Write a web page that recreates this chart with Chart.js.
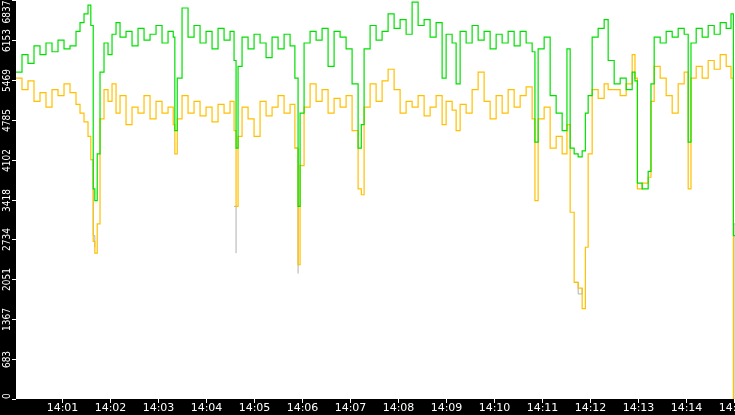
<!DOCTYPE html>
<html>
<head>
<meta charset="utf-8">
<script src="https://cdn.jsdelivr.net/npm/chart.js@4/dist/chart.umd.min.js"></script>
<style>
  html, body { margin: 0; padding: 0; background: #000; }
  #wrap { width: 735px; height: 415px; }
</style>
</head>
<body>
<div id="wrap"><canvas id="c" width="735" height="415"></canvas></div>
<script>
// seconds after 14:00
const times = [2.5, 10, 17.5, 25, 32.5, 40, 47.5, 55, 62.5, 70, 77.5, 82.5, 87.5, 92.5, 96, 99, 101, 104, 107.5,
  112.5, 117.5, 122.5, 127.5, 132.5, 140, 147.5, 155, 162.5, 170, 177.5, 185, 192.5, 199, 201, 204, 210, 217.5,
  225, 232.5, 240, 247.5, 255, 262.5, 270, 275, 277.5, 280, 285, 292.5, 300, 307.5, 315, 322.5, 330, 337.5, 345,
  351, 355, 357.5, 362.5, 370, 377.5, 385, 392.5, 400, 407.5, 415, 422.5, 430, 434, 437.5, 445, 452.5, 460, 467.5,
  475, 482.5, 490, 497.5, 505, 512.5, 520, 527.5, 535, 540, 547.5, 552.5, 557.5, 565, 572.5, 580, 587.5, 595,
  602.5, 610, 617.5, 625, 632.5, 640, 647.5, 651, 655, 662.5, 670, 677.5, 685, 691, 695, 700, 705, 710, 714,
  717.5, 722.5, 730, 737.5, 742.5, 750, 757.5, 765, 772.5, 776, 779, 785, 792.5, 796, 800, 807.5, 815, 822.5,
  830, 837.5, 842.5, 846, 852.5, 860, 867.5, 875, 882.5, 890, 896, 899, 901];

const greenValues = [5600, 5900, 5750, 6050, 5900, 6100, 5950, 6150, 6000, 6050, 6300, 6450, 6600, 6750, 6400, 3600, 3400, 4200, 5600,
  6100, 5900, 6250, 6450, 6200, 6300, 6050, 6350, 6150, 6250, 6400, 6100, 6300, 6200, 4600, 5500, 6700, 6200,
  6400, 6100, 6300, 6000, 6350, 6150, 6300, 5800, 4300, 5700, 6200, 6000, 6250, 6100, 5850, 6200, 6000, 6250, 6050,
  5500, 3300, 4900, 6100, 6300, 6150, 6350, 5700, 6300, 6200, 6000, 5400, 4300, 4700, 6000, 6400, 6150, 6300, 6600,
  6350, 6500, 6250, 6800, 6400, 6500, 6200, 6450, 5500, 6250, 6100, 5400, 6300, 6100, 6400, 6150, 6300, 6000,
  6250, 6100, 6300, 6050, 6300, 6100, 5950, 4400, 6000, 6200, 5200, 4900, 4600, 6000, 4300, 4200, 4150, 4250, 4900,
  5200, 6200, 6350, 6500, 5800, 5400, 5500, 5300, 5600, 5450, 3700, 3600, 3900, 5400, 6200, 6100, 6300, 6200,
  6350, 6250, 4400, 6100, 6350, 6200, 6400, 6250, 6450, 6350, 6600, 2800, 2800];

const orangeValues = [5500, 5300, 5450, 5100, 5250, 5000, 5300, 5200, 5400, 5250, 5050, 4900, 4750, 4500, 4100, 2700, 2500, 3000, 4800,
  5300, 5100, 5400, 4900, 5200, 4700, 5000, 4900, 5200, 4800, 5100, 4900, 5000, 4700, 4200, 4800, 5200, 4900,
  5100, 4850, 5000, 4750, 5050, 4900, 5100, 4600, 3300, 4500, 5000, 4800, 4500, 5100, 4850, 5000, 5200, 4900, 5050,
  4300, 2300, 4000, 5000, 5400, 5100, 5300, 4900, 5150, 5000, 5200, 4600, 3600, 3500, 5000, 5400, 5100, 5450, 5650,
  5300, 4900, 5100, 5000, 5200, 4850, 5000, 5200, 4700, 5100, 4950, 4600, 5050, 4900, 5300, 5600, 5100, 4800,
  5200, 4900, 5300, 5000, 5200, 5350, 4800, 3400, 4800, 5000, 4300, 4500, 4200, 4700, 3200, 2000, 1900, 1550, 2600,
  4200, 5300, 5150, 5400, 5300, 5300, 5200, 5400, 5900, 5500, 3600, 3700, 3800, 5100, 5700, 5500, 5200, 4900,
  5400, 5600, 3600, 5500, 5700, 5500, 5800, 5650, 5900, 5700, 5500, 0, 0];

// gray only shows through at the dips; null breaks the line elsewhere
const grayTimes = [96, 99, 101, 104, 275, 277.5, 280, 351, 355, 357.5, 700, 705, 710, 714, 899, 901];
const grayValues = [4100, 2800, 2600, null, 3300, 2500, null, 4300, 2150, null, 2000, 1800, 1900, null, 3000, 0];

const yTicks = [0, 683, 1367, 2051, 2734, 3418, 4102, 4785, 5469, 6153, 6837];
const xTickSeconds = [60, 120, 180, 240, 300, 360, 420, 480, 540, 600, 660, 720, 780, 840, 900];

const pts = (ts, vs) => ts.map((t, i) => ({ x: t, y: vs[i] }));

const frame = {
  id: 'frame',
  beforeDraw(chart) {
    const { ctx, chartArea: a } = chart;
    ctx.save();
    ctx.fillStyle = '#000';
    ctx.fillRect(0, 0, chart.width, chart.height);
    ctx.fillStyle = '#fff';
    ctx.fillRect(a.left, a.top, a.right - a.left, a.bottom - a.top);
    ctx.restore();
  },
  afterDraw(chart) {
    const { ctx, chartArea: a, scales } = chart;
    ctx.save();
    ctx.strokeStyle = '#fff';
    ctx.fillStyle = '#fff';
    ctx.lineWidth = 1;
    ctx.font = '10px "DejaVu Sans Condensed", "DejaVu Sans"';
    // y labels, rotated
    yTicks.forEach(v => {
      const y = Math.round(scales.y.getPixelForValue(v)) + 0.5;
      ctx.beginPath(); ctx.moveTo(a.left - 4, y); ctx.lineTo(a.left, y); ctx.stroke();
      ctx.save();
      ctx.translate(7, Math.min(Math.max(y, 0), a.bottom));
      ctx.rotate(-Math.PI / 2);
      ctx.textAlign = v === 0 ? 'left' : (v === 6837 ? 'right' : 'center');
      ctx.textBaseline = 'middle';
      ctx.fillText(String(v), 0, 0);
      ctx.restore();
    });
    // x labels
    ctx.font = '11px "DejaVu Sans"';
    ctx.textAlign = 'center';
    ctx.textBaseline = 'top';
    xTickSeconds.forEach(s => {
      const x = Math.round(scales.x.getPixelForValue(s)) + 0.5;
      ctx.beginPath(); ctx.moveTo(x, a.bottom); ctx.lineTo(x, a.bottom + 4); ctx.stroke();
      ctx.fillText('14:' + String(Math.floor(s / 60)).padStart(2, '0'), x, a.bottom + 4);
    });
    ctx.restore();
  }
};

new Chart(document.getElementById('c'), {
  type: 'line',
  data: {
    datasets: [
      { data: pts(times, greenValues), borderColor: '#00e000', borderWidth: 1.2, stepped: true, pointRadius: 0, order: 1 },
      { data: pts(times, orangeValues), borderColor: '#ffc000', borderWidth: 1.2, stepped: true, pointRadius: 0, order: 2 },
      { data: pts(grayTimes, grayValues), borderColor: '#b0b0b0', borderWidth: 1, stepped: true, pointRadius: 0, spanGaps: false, order: 3 }
    ]
  },
  options: {
    responsive: false,
    animation: false,
    layout: { padding: { left: 16, bottom: 16, top: 0, right: 0 } },
    plugins: { legend: { display: false }, tooltip: { enabled: false } },
    scales: {
      x: { type: 'linear', min: 2.5, max: 901, display: false },
      y: { min: 0, max: 6837, display: false }
    }
  },
  plugins: [frame]
});
</script>
</body>
</html>
